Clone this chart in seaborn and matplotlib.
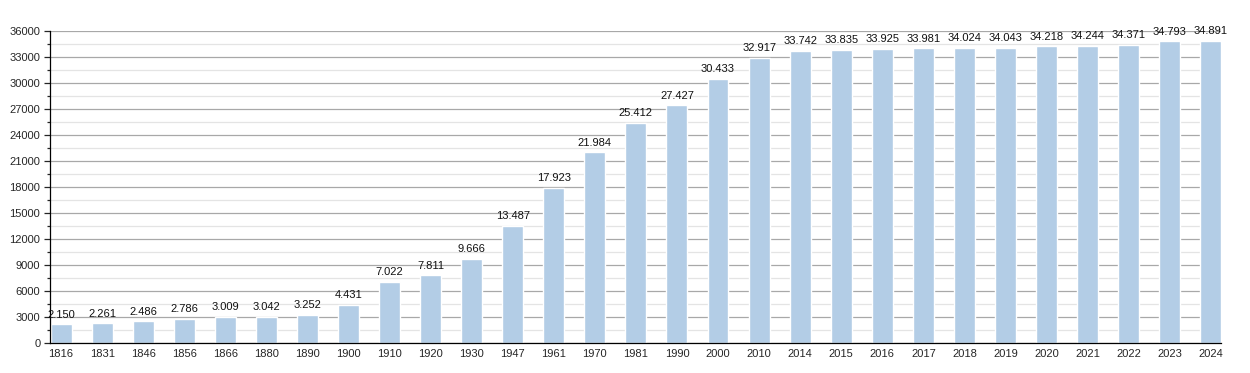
#! /usr/bin/env python3
# coding: utf-8
"""
Population by census year, bar chart with value labels.
"""
import pandas as pd
import matplotlib.pyplot as plt
import seaborn as sb
from matplotlib.ticker import MultipleLocator

years = ['1816', '1831', '1846', '1856', '1866', '1880', '1890', '1900', '1910', '1920',
         '1930', '1947', '1961', '1970', '1981', '1990', '2000', '2010', '2014', '2015',
         '2016', '2017', '2018', '2019', '2020', '2021', '2022', '2023', '2024']
population = [2150, 2261, 2486, 2786, 3009, 3042, 3252, 4431, 7022, 7811,
              9666, 13487, 17923, 21984, 25412, 27427, 30433, 32917, 33742, 33835,
              33925, 33981, 34024, 34043, 34218, 34244, 34371, 34793, 34891]

BAR_COLOR = '#b3cde6'


def fmt_thousands(v: int) -> str:
    # dot as thousands separator
    return f'{v:,}'.replace(',', '.')


if __name__ == '__main__':
    sb.set_style('white')
    plt.rcParams['font.family'] = ['Liberation Sans', 'DejaVu Sans']

    data = pd.DataFrame({'year': years, 'population': population})

    fig = plt.figure(figsize=(12.5, 3.73), dpi=100)
    ax = fig.add_axes([0.04, 0.0804, 0.9368, 0.8365])

    # Grid below bars
    ax.set_axisbelow(True)
    ax.yaxis.set_major_locator(MultipleLocator(3000))
    ax.yaxis.set_minor_locator(MultipleLocator(1500))
    ax.grid(which='major', axis='y', color='#a8a8a8', linewidth=0.9)
    ax.grid(which='minor', axis='y', color='#e4e4e4', linewidth=0.9)

    sb.barplot(data=data, x='year', y='population', color=BAR_COLOR,
               saturation=1, width=0.51, ax=ax)

    for i, v in enumerate(population):
        ax.text(i, v + 550, fmt_thousands(v), ha='center', va='bottom',
                fontsize=8, color='#111111')

    ax.set_ylim(0, 36000)
    ax.set_xlim(-0.27, len(years) - 0.75)
    ax.set_xlabel('')
    ax.set_ylabel('')

    for side in ['top', 'right']:
        ax.spines[side].set_visible(False)
    ax.spines['left'].set_color('black')
    ax.spines['bottom'].set_color('black')
    ax.spines['left'].set_linewidth(0.9)
    ax.spines['bottom'].set_linewidth(0.9)

    ax.tick_params(axis='y', which='major', left=True, length=4, width=0.9,
                   labelsize=8, pad=3)
    ax.tick_params(axis='y', which='minor', left=True, length=2, width=0.9)
    ax.tick_params(axis='x', bottom=False, labelsize=8, pad=1)

    plt.savefig('out.png', dpi=100)
